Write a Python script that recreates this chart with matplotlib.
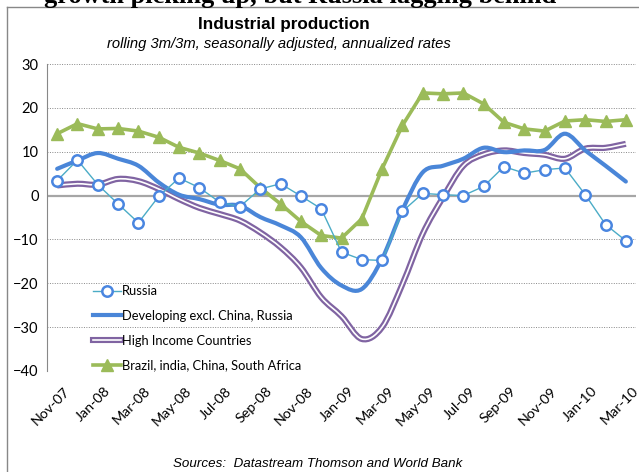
import matplotlib
matplotlib.use("Agg")
import matplotlib.pyplot as plt
import matplotlib.patheffects as pe
from matplotlib.path import Path
from matplotlib.patches import PathPatch
from matplotlib.lines import Line2D
from matplotlib.transforms import ScaledTranslation
import numpy as np

# months Nov-07 .. Mar-10
months = ["Nov-07", "Dec-07", "Jan-08", "Feb-08", "Mar-08", "Apr-08", "May-08", "Jun-08",
          "Jul-08", "Aug-08", "Sep-08", "Oct-08", "Nov-08", "Dec-08", "Jan-09", "Feb-09",
          "Mar-09", "Apr-09", "May-09", "Jun-09", "Jul-09", "Aug-09", "Sep-09", "Oct-09",
          "Nov-09", "Dec-09", "Jan-10", "Feb-10", "Mar-10"]

russia = [3.4, 8.1, 2.5, -1.9, -6.2, -0.2, 4.0, 1.8, -1.5, -2.5, 1.5, 2.7, -0.1, -3.0,
          -12.9, -14.6, -14.8, -3.6, 0.5, 0.2, 0.0, 2.1, 6.6, 5.1, 5.9, 6.3, 0.2, -6.6, -10.3]

developing = [6.1, 8.0, 9.7, 8.4, 6.8, 3.0, 0.2, -0.8, -2.1, -2.3, -4.9, -6.8, -9.5, -16.5,
              -20.5, -21.3, -14.4, -3.3, 5.3, 6.8, 8.4, 10.9, 9.9, 10.3, 10.4, 14.1, 10.3, 6.8, 3.2]

high_income = [2.3, 2.7, 2.5, 3.8, 3.3, 1.5, -0.8, -2.8, -4.2, -5.7, -8.4, -11.8, -16.4, -23.2,
               -27.5, -32.7, -30.0, -20.2, -8.7, -0.4, 6.8, 9.4, 10.3, 9.7, 9.3, 8.4, 10.7, 10.9, 11.8]

bric = [14.1, 16.4, 15.2, 15.3, 14.7, 13.3, 11.0, 9.7, 8.0, 6.1, 1.8, -1.9, -5.9, -9.1,
        -9.7, -5.3, 6.1, 16.0, 23.4, 23.2, 23.4, 20.9, 16.7, 15.2, 14.7, 17.0, 17.3, 16.9, 17.3]

labels = ["Russia", "Developing excl. China, Russia", "High Income Countries",
          "Brazil, india, China, South Africa"]

c_russia_line = "#4BACC6"
c_russia_mark = "#4A86E0"
c_dev = "#4A86D8"
c_hi = "#8064A2"
c_bric = "#9BBB59"

plt.rcParams['font.family'] = ['Lato', 'DejaVu Sans']


def smooth_path(x, y):
    # Excel-style smoothed line: cubic bezier through every point
    pts = np.column_stack([x, y]).astype(float)
    n = len(pts)
    verts = [pts[0]]
    codes = [Path.MOVETO]
    for i in range(n - 1):
        p0 = pts[i - 1] if i > 0 else pts[i]
        p1 = pts[i]
        p2 = pts[i + 1]
        p3 = pts[i + 2] if i + 2 < n else pts[i + 1]
        c1 = p1 + (p2 - p0) / 6.0
        c2 = p2 - (p3 - p1) / 6.0
        verts += [c1, c2, p2]
        codes += [Path.CURVE4] * 3
    return Path(verts, codes)


fig = plt.figure(figsize=(6.39, 4.72), dpi=100)
ax = fig.add_axes([47 / 639, 1 - 371 / 472, 589 / 639, 307 / 472])

x = np.arange(len(months))

# grid
ax.set_ylim(-40, 30)
ax.set_xlim(-0.5, len(months) - 0.5)
ax.set_yticks(range(-40, 31, 10))
for v in range(-40, 31, 10):
    if v != 0:
        ax.axhline(v, color="#888888", lw=0.7, ls=(0, (1, 1.5)), zorder=0)
ax.axhline(0, color="#A6A6A6", lw=1.6, zorder=1)

# high income: double line
hi_patch = PathPatch(smooth_path(x, high_income), fill=False, edgecolor="white", lw=1.2,
                     path_effects=[pe.Stroke(linewidth=4.4, foreground=c_hi), pe.Normal()],
                     zorder=3)
ax.add_patch(hi_patch)

# developing: thick smooth blue
ax.add_patch(PathPatch(smooth_path(x, developing), fill=False, edgecolor=c_dev, lw=3,
                       capstyle="round", zorder=4))

# BRIC: green with triangles
ax.plot(x, bric, color=c_bric, lw=2.6, marker="^", markersize=8, markeredgecolor=c_bric,
        zorder=5)

# Russia: thin line with hollow circles
ax.plot(x, russia, color=c_russia_line, lw=1.0, marker="o", markersize=7.5,
        markerfacecolor="white", markeredgecolor=c_russia_mark, markeredgewidth=1.8, zorder=6)

for s in ["top", "right", "bottom"]:
    ax.spines[s].set_visible(False)
ax.spines["left"].set_color("#888888")
ax.spines["left"].set_linewidth(0.8)
ax.tick_params(axis="y", length=0, pad=6, labelsize=10.5)
ax.tick_params(axis="x", length=0, pad=10)
ax.set_xticks(x[::2])
ax.set_xticklabels(months[::2], rotation=45, ha="right", va="top", rotation_mode="anchor",
                   fontsize=10.3)
shift = ScaledTranslation(6 / 100, 0, fig.dpi_scale_trans)
for lab in ax.get_xticklabels():
    lab.set_transform(lab.get_transform() + shift)

# legend
handles = [
    Line2D([], [], color=c_russia_line, lw=1.0, marker="o", markersize=7.5,
           markerfacecolor="white", markeredgecolor=c_russia_mark, markeredgewidth=1.8),
    Line2D([], [], color=c_dev, lw=3),
    Line2D([], [], color="white", lw=1.2,
           path_effects=[pe.Stroke(linewidth=4.4, foreground=c_hi), pe.Normal()]),
    Line2D([], [], color=c_bric, lw=2.6, marker="^", markersize=8, markeredgecolor=c_bric),
]
ax.legend(handles, labels, loc="upper left", bbox_to_anchor=(0.07, 0.296), frameon=False,
          fontsize=9.3, handlelength=2.1, handletextpad=0.1, labelspacing=0.98,
          borderaxespad=0)

# titles and source
fig.text(284 / 639, 1 - 24 / 472, "Industrial production", ha="center", va="center",
         fontsize=12.3, fontweight="bold", family=["Liberation Sans Narrow", "Liberation Sans"])
fig.text(279 / 639, 1 - 44 / 472, "rolling 3m/3m, seasonally adjusted, annualized rates",
         ha="center", va="center", fontsize=10.6, style="italic",
         family=["Liberation Sans Narrow", "Liberation Sans"])
fig.text(318 / 639, 1 - 464 / 472, "Sources:  Datastream Thomson and World Bank",
         ha="center", va="center", fontsize=9.6, style="italic",
         family=["Liberation Sans Narrow", "Liberation Sans"])

# cropped heading above the chart box
fig.text(300 / 639, 1 - 3 / 472, "growth picking up, but Russia lagging behind",
         ha="center", va="baseline", fontsize=19, fontweight="bold",
         family=["Liberation Serif", "DejaVu Serif"])

# chart box frame
fig.add_artist(Line2D([7 / 639, 7 / 639], [0, 1 - 7 / 472], color="#888888", lw=1.0,
                      transform=fig.transFigure))
fig.add_artist(Line2D([7 / 639, 1], [1 - 7 / 472, 1 - 7 / 472], color="#888888", lw=1.0,
                      transform=fig.transFigure))

fig.savefig("out.png", dpi=100)
